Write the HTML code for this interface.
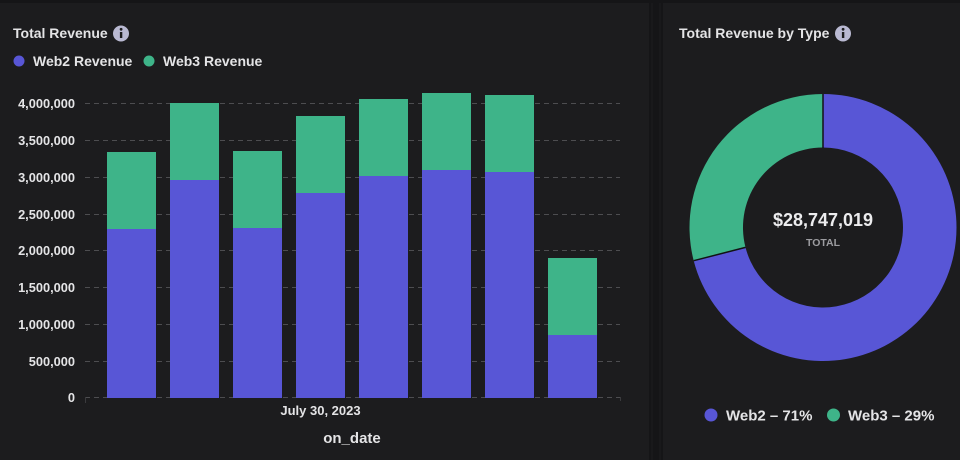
<!DOCTYPE html>
<html><head><meta charset="utf-8"><style>
html,body{margin:0;padding:0;background:#151517;}
body{width:960px;height:460px;overflow:hidden;position:relative;font-family:"Liberation Sans",sans-serif;}
svg{position:absolute;left:0;top:0;}
</style></head><body>
<svg width="960" height="460" viewBox="0 0 960 460" xmlns="http://www.w3.org/2000/svg" font-family="Liberation Sans, sans-serif">
<rect x="0" y="0" width="960" height="460" fill="#151517"/>
<rect x="0" y="3" width="649" height="457" fill="#1c1c1e"/>
<rect x="663" y="3" width="297" height="457" fill="#1c1c1e"/>
<rect x="651" y="3" width="2" height="457" fill="#19191b"/>
<rect x="659" y="3" width="2" height="457" fill="#19191b"/>

<!-- Left title -->
<text x="13" y="38" font-size="14" font-weight="bold" fill="#e4e4e6">Total Revenue</text>
<circle cx="121" cy="33.5" r="8" fill="#b9b9d2"/>
<rect x="119.9" y="32" width="2.4" height="6" fill="#1c1c1e"/>
<circle cx="121.1" cy="29.3" r="1.4" fill="#1c1c1e"/>

<!-- Legend -->
<circle cx="19" cy="61" r="5.5" fill="#5856d6"/>
<text x="33" y="66" font-size="14" font-weight="bold" fill="#e4e4e6">Web2 Revenue</text>
<circle cx="149" cy="61" r="5.5" fill="#3eb489"/>
<text x="163" y="66" font-size="14" font-weight="bold" fill="#e4e4e6">Web3 Revenue</text>

<!-- gridlines -->
<g stroke="#4d4d50" stroke-width="1" stroke-dasharray="5,4">
<line x1="85" x2="620" y1="103.5" y2="103.5"/>
<line x1="85" x2="620" y1="140.5" y2="140.5"/>
<line x1="85" x2="620" y1="177.5" y2="177.5"/>
<line x1="85" x2="620" y1="214.5" y2="214.5"/>
<line x1="85" x2="620" y1="250.5" y2="250.5"/>
<line x1="85" x2="620" y1="287.5" y2="287.5"/>
<line x1="85" x2="620" y1="324.5" y2="324.5"/>
<line x1="85" x2="620" y1="361.5" y2="361.5"/>
<line x1="85" x2="620" y1="397.5" y2="397.5"/>
</g>
<line x1="85.5" x2="85.5" y1="397" y2="403" stroke="#3a3a3d"/>
<line x1="620.5" x2="620.5" y1="397" y2="401" stroke="#3a3a3d"/>

<!-- y labels -->
<g font-size="12.8" font-weight="bold" fill="#e4e4e6" text-anchor="end">
<text x="75" y="108">4,000,000</text>
<text x="75" y="145">3,500,000</text>
<text x="75" y="182">3,000,000</text>
<text x="75" y="219">2,500,000</text>
<text x="75" y="255">2,000,000</text>
<text x="75" y="292">1,500,000</text>
<text x="75" y="329">1,000,000</text>
<text x="75" y="366">500,000</text>
<text x="75" y="402">0</text>
</g>

<!-- bars -->
<g>
<rect x="107" y="152" width="49" height="77" fill="#3eb489"/>
<rect x="107" y="229" width="49" height="169" fill="#5856d6"/>
<rect x="170" y="103" width="49" height="77" fill="#3eb489"/>
<rect x="170" y="180" width="49" height="218" fill="#5856d6"/>
<rect x="233" y="151" width="49" height="77" fill="#3eb489"/>
<rect x="233" y="228" width="49" height="170" fill="#5856d6"/>
<rect x="296" y="116" width="49" height="77" fill="#3eb489"/>
<rect x="296" y="193" width="49" height="205" fill="#5856d6"/>
<rect x="359" y="99" width="49" height="77" fill="#3eb489"/>
<rect x="359" y="176" width="49" height="222" fill="#5856d6"/>
<rect x="422" y="93" width="49" height="77" fill="#3eb489"/>
<rect x="422" y="170" width="49" height="228" fill="#5856d6"/>
<rect x="485" y="95" width="49" height="77" fill="#3eb489"/>
<rect x="485" y="172" width="49" height="226" fill="#5856d6"/>
<rect x="548" y="258" width="49" height="77" fill="#3eb489"/>
<rect x="548" y="335" width="49" height="63" fill="#5856d6"/>
</g>

<text x="320.5" y="415" font-size="13" font-weight="bold" fill="#e4e4e6" text-anchor="middle">July 30, 2023</text>
<text x="352" y="443" font-size="15" font-weight="bold" fill="#e4e4e6" text-anchor="middle">on_date</text>

<!-- Right title -->
<text x="679" y="38" font-size="14" font-weight="bold" fill="#e4e4e6">Total Revenue by Type</text>
<circle cx="843" cy="33.5" r="8" fill="#b9b9d2"/>
<rect x="841.9" y="32" width="2.4" height="6" fill="#1c1c1e"/>
<circle cx="843.1" cy="29.3" r="1.4" fill="#1c1c1e"/>

<!-- donut -->
<path d="M 823 94 A 133.5 133.5 0 1 1 693.7 260.7 L 745.5 247.4 A 80 80 0 1 0 823 147.5 Z" fill="#5856d6"/>
<path d="M 823 94 A 133.5 133.5 0 0 0 693.7 260.7 L 745.5 247.4 A 80 80 0 0 1 823 147.5 Z" fill="#3eb489"/>
<line x1="823" y1="94" x2="823" y2="148" stroke="#121214" stroke-width="1.5"/>
<line x1="693.7" y1="260.7" x2="745.5" y2="247.4" stroke="#121214" stroke-width="1.5"/>
<text x="823" y="226" font-size="18" font-weight="bold" fill="#ececee" text-anchor="middle">$28,747,019</text>
<text x="823" y="246" font-size="10.5" font-weight="bold" fill="#9c9ca0" text-anchor="middle">TOTAL</text>

<!-- bottom legend -->
<circle cx="711" cy="415" r="6.5" fill="#5856d6"/>
<text x="726" y="420.5" font-size="15" font-weight="bold" fill="#e4e4e6">Web2 – 71%</text>
<circle cx="833.5" cy="415" r="6.5" fill="#3eb489"/>
<text x="848" y="420.5" font-size="15" font-weight="bold" fill="#e4e4e6">Web3 – 29%</text>
</svg>
</body></html>
